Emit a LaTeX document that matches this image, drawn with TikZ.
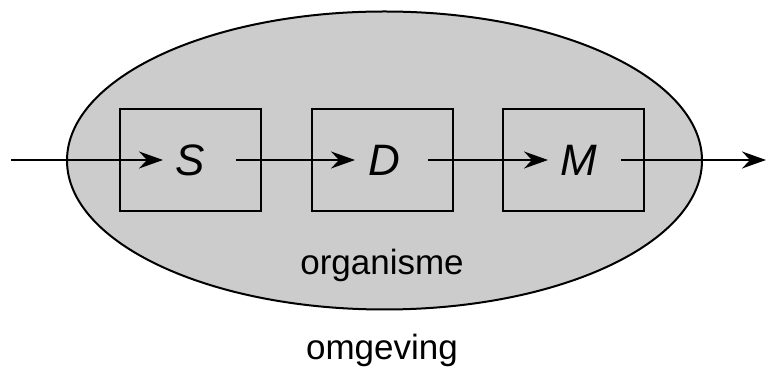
\documentclass[tikz,border=0pt]{standalone}
\usepackage{fontspec}
\setmainfont{Liberation Sans}
\usetikzlibrary{arrows.meta,calc}
\begin{document}
\begin{tikzpicture}[x=1pt,y=1pt,
  blok/.style={draw=black,line width=2pt,minimum width=141pt,minimum height=102pt,inner sep=0pt},
  letter/.style={font=\fontsize{44}{48}\selectfont\itshape,inner sep=0pt},
  label/.style={font=\fontsize{35}{40}\selectfont,inner sep=0pt},
  pijl/.style={line width=2pt,-{Stealth[length=24pt,width=17pt,inset=8pt]}},
  lijn/.style={line width=2pt}]
\useasboundingbox (0,0) rectangle (766,369);
\draw[fill={rgb,255:red,204;green,204;blue,204},line width=2pt] (384.5,208.5) ellipse [x radius=317.5, y radius=149];
\node[blok] (sbox) at (190.5,209) {};
\node[blok] (dbox) at (382.5,209) {};
\node[blok] (mbox) at (573.5,209) {};
\node[letter] (S) at (190.5,209) {S};
\node[letter] (D) at (384,209) {D};
\node[letter] (M) at (579,209) {M};
\node[label] (org) at (382,104) {organisme};
\node[label] (omg) at (382,19) {omgeving};
\coordinate (in) at (11,209);
\coordinate (out) at (766,209);
\draw[pijl] (in) -- ($(sbox.center)+(-27.5,0)$);
\draw[pijl] ($(sbox.center)+(45.5,0)$) -- ($(dbox.center)+(-27.5,0)$);
\draw[pijl] ($(dbox.center)+(45.5,0)$) -- ($(mbox.center)+(-25.5,0)$);
\draw[pijl] ($(mbox.center)+(47.5,0)$) -- (out);
\end{tikzpicture}
\end{document}
